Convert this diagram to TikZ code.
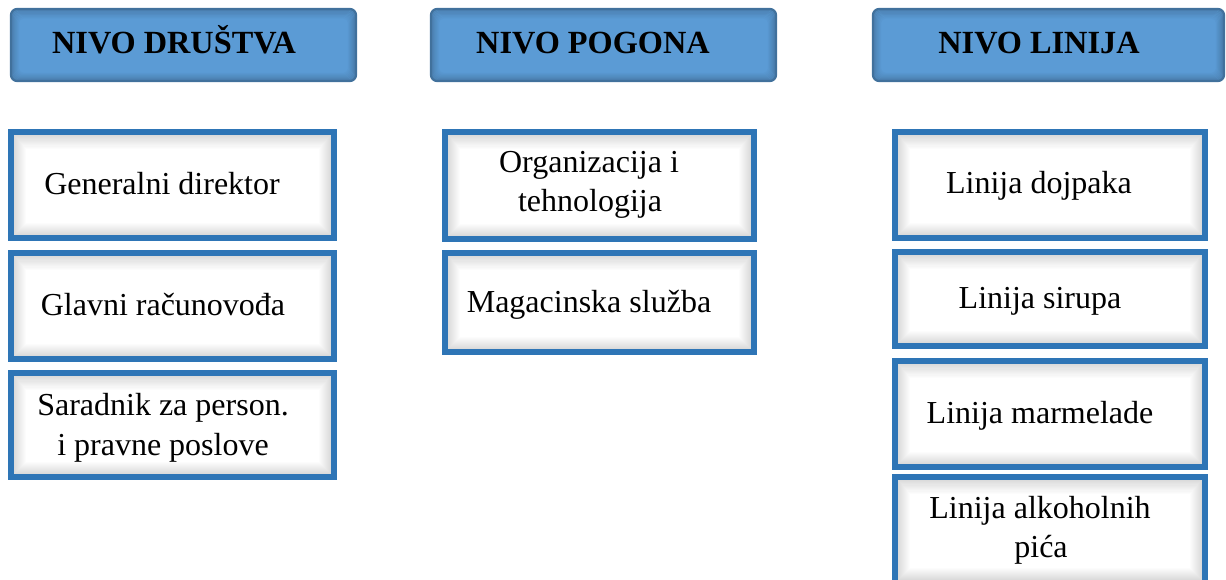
\documentclass[tikz,border=0pt]{standalone}
\usepackage{fontspec}
\setmainfont{Liberation Serif}
\definecolor{bordblue}{HTML}{2E75B6}
\definecolor{headfill}{HTML}{5B9BD5}
\definecolor{headdraw}{HTML}{41719C}
\newcommand\myshade[5]{% color, max opacity, start inset, corner radius, steps
  \foreach \k in {0,...,#5}{
    \pgfmathsetmacro\op{#2*(1-\k/(#5+1))}
    \pgfmathsetmacro\dd{#3+\k*1.0}
    \pgfmathsetmacro\db{#3+\k*1.0}
    \pgfmathsetmacro\dt{#3+\k*1.2}
    \draw[#1, line width=1.2pt, opacity=\op, rounded corners=#4]
      ([xshift=\dd pt,yshift=\db pt]path picture bounding box.south west) rectangle
      ([xshift=-\dd pt,yshift=-\dt pt]path picture bounding box.north east);
  }}
\tikzset{
  headbox/.style={draw=headdraw, fill=headfill, line width=2.2pt, rounded corners=6pt,
    inner sep=0pt, minimum height=72pt,
    path picture={\myshade{black}{0.16}{0.6}{5pt}{7}}},
  wbox/.style={draw=bordblue, fill=white, line width=6pt, inner sep=0pt,
    path picture={\myshade{black}{0.14}{3.2}{0pt}{11}}},
  headtxt/.style={font=\fontsize{32.3}{36}\selectfont\bfseries, anchor=base, inner sep=0pt},
  btxt/.style={font=\fontsize{32}{38}\selectfont, anchor=base, inner sep=0pt},
}
\begin{document}
\begin{tikzpicture}[x=1pt,y=-1pt]
\useasboundingbox (0,0) rectangle (1226,580);
% headers
\node[headbox, minimum width=345pt] (h1) at (183.5,45) {};
\node[headbox, minimum width=345pt] (h2) at (603.5,45) {};
\node[headbox, minimum width=351pt] (h3) at (1048.5,45) {};
\node[headtxt] (h1t) at (174,54) {NIVO DRUŠTVA};
\node[headtxt] (h2t) at (593,54) {NIVO POGONA};
\node[headtxt] (h3t) at (1039,54) {NIVO LINIJA};
% column 1
\node[wbox, minimum width=323pt, minimum height=106pt] (a1) at (172.5,185) {};
\node[wbox, minimum width=323pt, minimum height=106pt] (a2) at (172.5,306) {};
\node[wbox, minimum width=323pt, minimum height=104pt] (a3) at (172.5,425) {};
\node[btxt] (a1t) at (162,195) {Generalni direktor};
\node[btxt] (a2t) at (163,315) {Glavni računovođa};
\node[btxt] (a3t) at (163,415) {Saradnik za person.};
\node[btxt] (a3u) at (163,455) {i pravne poslove};
% column 2
\node[wbox, minimum width=309pt, minimum height=107pt] (b1) at (599.5,185.5) {};
\node[wbox, minimum width=309pt, minimum height=99pt] (b2) at (599.5,302.5) {};
\node[btxt] (b1t) at (589,173) {Organizacija i};
\node[btxt] (b1u) at (590,212) {tehnologija};
\node[btxt] (b2t) at (589,312) {Magacinska služba};
% column 3
\node[wbox, minimum width=310pt, minimum height=106pt] (c1) at (1050,185) {};
\node[wbox, minimum width=310pt, minimum height=94pt] (c2) at (1050,299) {};
\node[wbox, minimum width=310pt, minimum height=106pt] (c3) at (1050,414) {};
\node[wbox, minimum width=310pt, minimum height=106pt] (c4) at (1050,530) {};
\node[btxt] (c1t) at (1039,194) {Linija dojpaka};
\node[btxt] (c2t) at (1040,308) {Linija sirupa};
\node[btxt] (c3t) at (1040,423) {Linija marmelade};
\node[btxt] (c4t) at (1040,518) {Linija alkoholnih};
\node[btxt] (c4u) at (1041,557) {pića};
\end{tikzpicture}
\end{document}
